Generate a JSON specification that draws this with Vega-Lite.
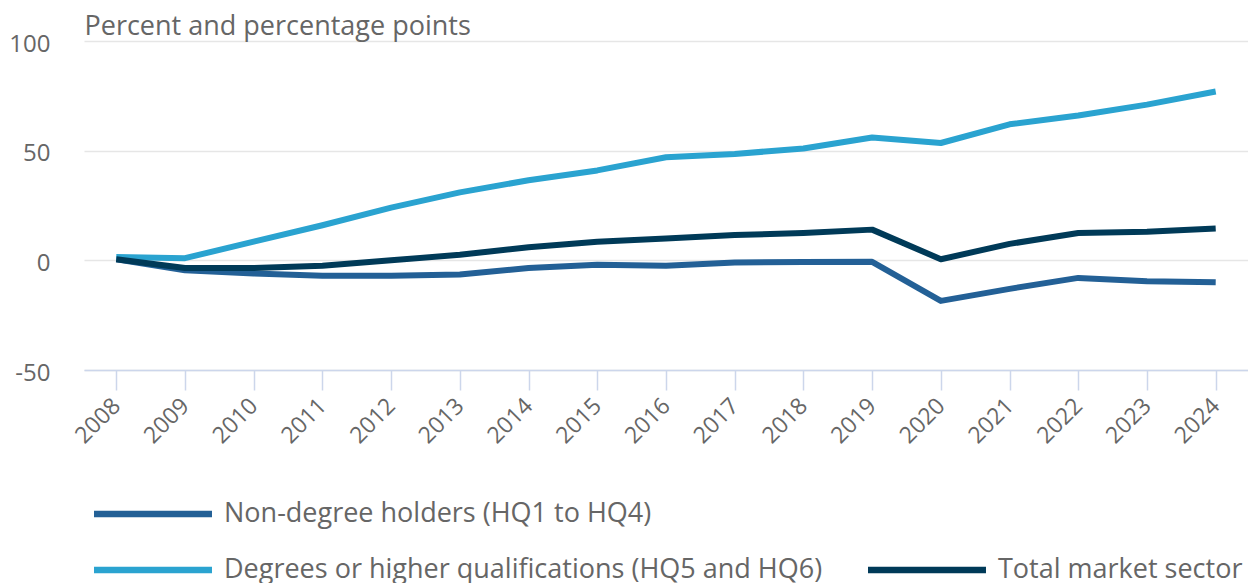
{
  "$schema": "https://vega.github.io/schema/vega-lite/v6.json",
  "width": 1164,
  "height": 329,
  "autosize": {"type": "none"},
  "padding": {"left": 84, "top": 41, "right": 0, "bottom": 213},
  "background": "white",
  "config": {
    "view": {"stroke": null},
    "font": "Open Sans"
  },
  "datasets": {
    "series": [
      {"year": "2008", "series": "Non-degree holders (HQ1 to HQ4)", "value": 0.5},
      {"year": "2009", "series": "Non-degree holders (HQ1 to HQ4)", "value": -4.5},
      {"year": "2010", "series": "Non-degree holders (HQ1 to HQ4)", "value": -6},
      {"year": "2011", "series": "Non-degree holders (HQ1 to HQ4)", "value": -7},
      {"year": "2012", "series": "Non-degree holders (HQ1 to HQ4)", "value": -7},
      {"year": "2013", "series": "Non-degree holders (HQ1 to HQ4)", "value": -6.5},
      {"year": "2014", "series": "Non-degree holders (HQ1 to HQ4)", "value": -3.5},
      {"year": "2015", "series": "Non-degree holders (HQ1 to HQ4)", "value": -2},
      {"year": "2016", "series": "Non-degree holders (HQ1 to HQ4)", "value": -2.5},
      {"year": "2017", "series": "Non-degree holders (HQ1 to HQ4)", "value": -1},
      {"year": "2018", "series": "Non-degree holders (HQ1 to HQ4)", "value": -0.8},
      {"year": "2019", "series": "Non-degree holders (HQ1 to HQ4)", "value": -0.7},
      {"year": "2020", "series": "Non-degree holders (HQ1 to HQ4)", "value": -18.5},
      {"year": "2021", "series": "Non-degree holders (HQ1 to HQ4)", "value": -13},
      {"year": "2022", "series": "Non-degree holders (HQ1 to HQ4)", "value": -8},
      {"year": "2023", "series": "Non-degree holders (HQ1 to HQ4)", "value": -9.5},
      {"year": "2024", "series": "Non-degree holders (HQ1 to HQ4)", "value": -10},
      {"year": "2008", "series": "Degrees or higher qualifications (HQ5 and HQ6)", "value": 1.5},
      {"year": "2009", "series": "Degrees or higher qualifications (HQ5 and HQ6)", "value": 1},
      {"year": "2010", "series": "Degrees or higher qualifications (HQ5 and HQ6)", "value": 8.5},
      {"year": "2011", "series": "Degrees or higher qualifications (HQ5 and HQ6)", "value": 16},
      {"year": "2012", "series": "Degrees or higher qualifications (HQ5 and HQ6)", "value": 24},
      {"year": "2013", "series": "Degrees or higher qualifications (HQ5 and HQ6)", "value": 31},
      {"year": "2014", "series": "Degrees or higher qualifications (HQ5 and HQ6)", "value": 36.5},
      {"year": "2015", "series": "Degrees or higher qualifications (HQ5 and HQ6)", "value": 41},
      {"year": "2016", "series": "Degrees or higher qualifications (HQ5 and HQ6)", "value": 47},
      {"year": "2017", "series": "Degrees or higher qualifications (HQ5 and HQ6)", "value": 48.5},
      {"year": "2018", "series": "Degrees or higher qualifications (HQ5 and HQ6)", "value": 51},
      {"year": "2019", "series": "Degrees or higher qualifications (HQ5 and HQ6)", "value": 56},
      {"year": "2020", "series": "Degrees or higher qualifications (HQ5 and HQ6)", "value": 53.5},
      {"year": "2021", "series": "Degrees or higher qualifications (HQ5 and HQ6)", "value": 62},
      {"year": "2022", "series": "Degrees or higher qualifications (HQ5 and HQ6)", "value": 66},
      {"year": "2023", "series": "Degrees or higher qualifications (HQ5 and HQ6)", "value": 71},
      {"year": "2024", "series": "Degrees or higher qualifications (HQ5 and HQ6)", "value": 77},
      {"year": "2008", "series": "Total market sector", "value": 0.5},
      {"year": "2009", "series": "Total market sector", "value": -3.5},
      {"year": "2010", "series": "Total market sector", "value": -3.5},
      {"year": "2011", "series": "Total market sector", "value": -2.5},
      {"year": "2012", "series": "Total market sector", "value": 0},
      {"year": "2013", "series": "Total market sector", "value": 2.5},
      {"year": "2014", "series": "Total market sector", "value": 6},
      {"year": "2015", "series": "Total market sector", "value": 8.5},
      {"year": "2016", "series": "Total market sector", "value": 10},
      {"year": "2017", "series": "Total market sector", "value": 11.5},
      {"year": "2018", "series": "Total market sector", "value": 12.5},
      {"year": "2019", "series": "Total market sector", "value": 14},
      {"year": "2020", "series": "Total market sector", "value": 0.5},
      {"year": "2021", "series": "Total market sector", "value": 7.5},
      {"year": "2022", "series": "Total market sector", "value": 12.5},
      {"year": "2023", "series": "Total market sector", "value": 13},
      {"year": "2024", "series": "Total market sector", "value": 14.5}
    ]
  },
  "data": {"name": "series"},
  "mark": {"type": "line", "strokeWidth": 6, "strokeJoin": "round", "strokeCap": "butt"},
  "encoding": {
    "x": {
      "field": "year",
      "type": "ordinal",
      "scale": {"type": "point", "padding": 0.47},
      "axis": {
        "title": null,
        "labelAngle": -45,
        "labelAlign": "right",
        "labelBaseline": "middle",
        "labelFontSize": 23,
        "labelColor": "#666666",
        "labelPadding": 12,
        "tickColor": "#ccd6eb",
        "tickSize": 20,
        "tickWidth": 1.5,
        "domainColor": "#ccd6eb",
        "domainWidth": 1.5,
        "grid": false
      }
    },
    "y": {
      "field": "value",
      "type": "quantitative",
      "scale": {"domain": [-50, 100], "nice": false, "zero": false},
      "axis": {
        "values": [-50, 0, 50, 100],
        "labelExpr": "'' + datum.value",
        "title": "Percent and percentage points",
        "titleAngle": 0,
        "titleAlign": "left",
        "titleBaseline": "alphabetic",
        "titleX": 0,
        "titleY": -7,
        "titleFontSize": 27,
        "titleFontWeight": "normal",
        "titleColor": "#666666",
        "labelFontSize": 24,
        "labelColor": "#666666",
        "labelPadding": 34,
        "labelOffset": 3,
        "domain": false,
        "ticks": false,
        "grid": true,
        "gridColor": "#e6e6e6",
        "gridWidth": 1.5
      }
    },
    "color": {
      "field": "series",
      "type": "nominal",
      "scale": {
        "domain": ["Non-degree holders (HQ1 to HQ4)", " ", "Degrees or higher qualifications (HQ5 and HQ6)", "Total market sector"],
        "range": ["#236096", "transparent", "#2aa3d0", "#003a58"]
      },
      "legend": {
        "title": null,
        "orient": "none",
        "legendX": 10,
        "legendY": 455,
        "direction": "horizontal",
        "columns": 2,
        "columnPadding": 32,
        "rowPadding": 25,
        "symbolType": "M-1.22,0H6.78",
        "symbolSize": 870,
        "symbolStrokeWidth": 6.5,
        "symbolFillColor": "transparent",
        "labelFontSize": 27,
        "labelColor": "#666666",
        "labelOffset": 94,
        "labelLimit": 900
      }
    }
  }
}
